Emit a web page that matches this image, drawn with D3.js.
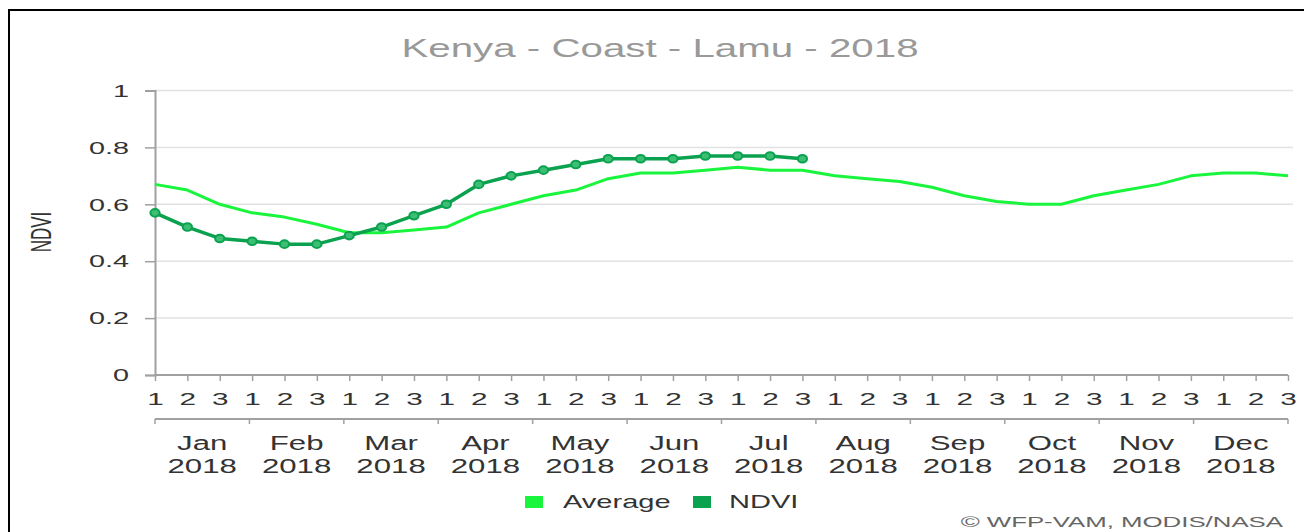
<!DOCTYPE html>
<html>
<head>
<meta charset="utf-8">
<script src="https://cdn.jsdelivr.net/npm/d3@7"></script>
<style>
html,body{margin:0;padding:0;background:#fff;}
svg{display:block;font-family:"Liberation Sans",Arial,sans-serif;}
</style>
</head>
<body>
<svg id="chart" width="1304" height="532"></svg>
<script>
const titleText = "Kenya - Coast - Lamu - 2018";
const dekadLabels = ["1","2","3","1","2","3","1","2","3","1","2","3","1","2","3","1","2","3","1","2","3","1","2","3","1","2","3","1","2","3","1","2","3","1","2","3"];
const months = ["Jan","Feb","Mar","Apr","May","Jun","Jul","Aug","Sep","Oct","Nov","Dec"];
const yearLabel = "2018";
const averageValues = [0.67,0.65,0.60,0.57,0.555,0.53,0.50,0.50,0.51,0.52,0.57,0.60,0.63,0.65,0.69,0.71,0.71,0.72,0.73,0.72,0.72,0.70,0.69,0.68,0.66,0.63,0.61,0.60,0.60,0.63,0.65,0.67,0.70,0.71,0.71,0.70];
const ndviValues = [0.57,0.52,0.48,0.47,0.46,0.46,0.49,0.52,0.56,0.60,0.67,0.70,0.72,0.74,0.76,0.76,0.76,0.77,0.77,0.77,0.76];
const yTicks = [0,0.2,0.4,0.6,0.8,1];
const seriesNames = ["Average","NDVI"];
const credit = "\u00A9 WFP-VAM, MODIS/NASA";

const colAvg = "#19f53c", colNdvi = "#0aa24f";
const svg = d3.select("#chart");
const L = 155, R = 1288, T = 90.5, B = 375;

// frame
svg.append("path").attr("d","M9,540 L9,10 L1310,10").attr("fill","none").attr("stroke","#000").attr("stroke-width",2);

function txt(x,y,s,size,k,anchor,fill){
  return svg.append("text").attr("transform",`translate(${x},${y}) scale(${k},1)`)
    .attr("text-anchor",anchor).attr("font-size",size).attr("fill",fill).text(s);
}

txt(660,57,titleText,25.5,1.58,"middle","#999");

const x = d3.scalePoint().domain(d3.range(36)).range([L,R]);
const y = d3.scaleLinear().domain([0,1]).range([B,T]);
const xm = d3.scaleBand().domain(months).range([L,R]);

// grid
svg.append("g").selectAll("line").data(yTicks.filter(d=>d>0)).join("line")
  .attr("x1",L).attr("x2",1293).attr("y1",d=>y(d)).attr("y2",d=>y(d))
  .attr("stroke","#e2e2e2").attr("stroke-width",1.5);

// y axis
const ya = svg.append("g").attr("transform",`translate(${L},0)`)
  .call(d3.axisLeft(y).tickValues(yTicks).tickSize(10).tickFormat(d=>d3.format("")(d)));
ya.select(".domain").attr("stroke","#a0a0a0").attr("stroke-width",2);
ya.selectAll(".tick line").attr("stroke","#a0a0a0").attr("stroke-width",1.5);
const kY = 1.8;
ya.selectAll(".tick text").attr("font-size",16).attr("fill","#333").attr("font-family","Liberation Sans, Arial, sans-serif")
  .attr("transform",`scale(${kY},1)`).attr("x",-26/kY).attr("dy","0.36em");

// y title
svg.append("text").attr("transform","translate(51,232) scale(1.7,1) rotate(-90)")
  .attr("text-anchor","middle").attr("font-size",17).attr("fill","#333").text("NDVI");

// dekad axis
const xa = svg.append("g").attr("transform",`translate(0,${B})`)
  .call(d3.axisBottom(x).tickSize(6).tickSizeOuter(0).tickFormat(i=>dekadLabels[i]));
xa.select(".domain").attr("stroke","#a0a0a0").attr("stroke-width",2).attr("d",`M${L},0H${R}`);
xa.selectAll(".tick line").attr("stroke","#a0a0a0").attr("stroke-width",1.5);
const kD = 1.75;
xa.selectAll(".tick text").attr("font-size",17).attr("fill","#333").attr("font-family","Liberation Sans, Arial, sans-serif")
  .attr("transform",`scale(${kD},1)`).attr("y",30).attr("dy",0);

// month axis
const my = 419;
svg.append("line").attr("x1",L).attr("x2",R).attr("y1",my).attr("y2",my).attr("stroke","#a0a0a0").attr("stroke-width",2);
svg.append("g").selectAll("line").data(months.map(m=>xm(m)).concat([R])).join("line")
  .attr("x1",d=>d).attr("x2",d=>d).attr("y1",my).attr("y2",my+5).attr("stroke","#a0a0a0").attr("stroke-width",1.5);
months.forEach(m=>{
  const cx = xm(m)+xm.bandwidth()/2;
  txt(cx,450,m,19.5,1.6,"middle","#333");
  txt(cx,473,yearLabel,19.5,1.6,"middle","#333");
});

// lines
const line = d3.line().x((d,i)=>x(i)).y(d=>y(d)).curve(d3.curveLinear);
svg.append("path").datum(averageValues).attr("d",line).attr("fill","none")
  .attr("stroke",colAvg).attr("stroke-width",3).attr("stroke-linejoin","round");
svg.append("path").datum(ndviValues).attr("d",line).attr("fill","none")
  .attr("stroke",colNdvi).attr("stroke-width",3.5).attr("stroke-linejoin","round");
svg.append("g").selectAll("ellipse").data(ndviValues).join("ellipse")
  .attr("cx",(d,i)=>x(i)).attr("cy",d=>y(d)).attr("rx",4.6).attr("ry",3.8)
  .attr("fill","#3cbf74").attr("stroke",colNdvi).attr("stroke-width",2);

// legend
const leg = [{n:seriesNames[0],c:colAvg,sx:525,tx:563},{n:seriesNames[1],c:colNdvi,sx:693,tx:729}];
leg.forEach(l=>{
  svg.append("rect").attr("x",l.sx).attr("y",496).attr("width",18).attr("height",12).attr("fill",l.c);
  txt(l.tx,508,l.n,17.5,1.66,"start","#333");
});

// credit
txt(1283,527,credit,14.5,1.78,"end","#666");
</script>
</body>
</html>
